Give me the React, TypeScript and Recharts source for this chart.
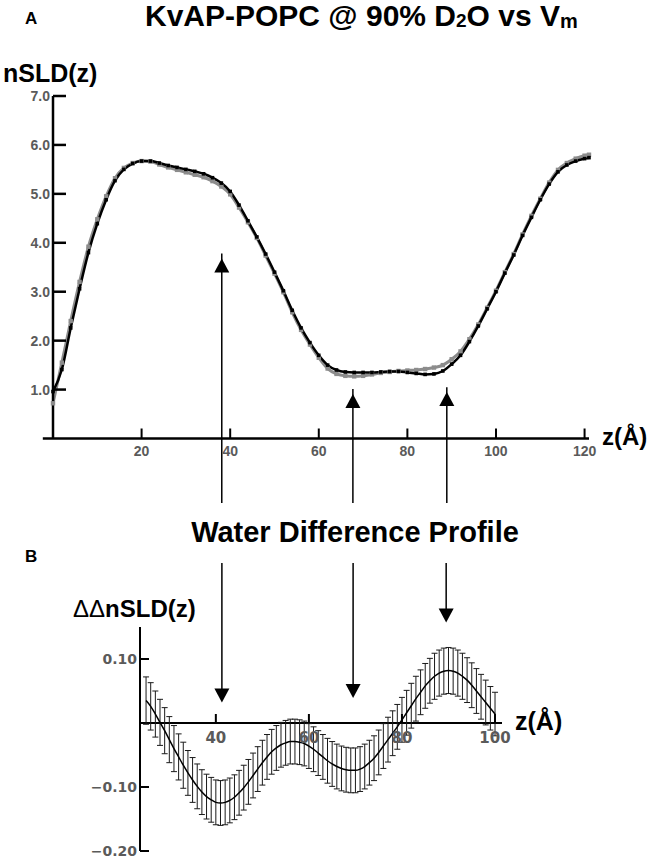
import React from "react";
import { LineChart, Line, XAxis, YAxis, ReferenceLine, ReferenceDot, ErrorBar } from "recharts";

const FONT = '"Liberation Sans", Arial, Helvetica, sans-serif';
const WIDE_FONT = '"DejaVu Sans", Verdana, sans-serif';
const TICK_GREY = "#5a5a5a";

// Panel A: nSLD(z) profiles, grey = reference, black = under V_m
const zA = [
  0, 2, 4, 6, 8, 10, 12, 14, 16, 18, 20, 22, 24, 26, 28, 30, 32, 34, 36, 38, 40, 42, 44, 46, 48, 50, 52, 54, 56, 58, 60,
  62, 64, 66, 68, 70, 72, 74, 76, 78, 80, 82, 84, 86, 88, 90, 92, 94, 96, 98, 100, 102, 104, 106, 108, 110, 112, 114,
  116, 118, 120, 121,
];
const nsldGrey = [
  0.72, 1.55, 2.4, 3.2, 3.92, 4.48, 4.95, 5.32, 5.53, 5.63, 5.67, 5.66, 5.6, 5.54, 5.49, 5.44, 5.39, 5.34, 5.26, 5.15,
  4.99, 4.72, 4.42, 4.1, 3.74, 3.37, 2.99, 2.58, 2.22, 1.92, 1.65, 1.43, 1.32, 1.28, 1.27, 1.28, 1.31, 1.34, 1.36, 1.38,
  1.39, 1.4, 1.42, 1.45, 1.5, 1.62, 1.78, 2.03, 2.33, 2.67, 3.02, 3.4, 3.77, 4.17, 4.55, 4.9, 5.23, 5.49, 5.63, 5.72,
  5.78, 5.8,
];
const nsldBlack = [
  0.96, 1.41, 2.26, 3.06, 3.8, 4.39, 4.88, 5.27, 5.5, 5.62, 5.67, 5.67, 5.63, 5.58, 5.54, 5.5, 5.46, 5.41, 5.33, 5.22,
  5.05, 4.77, 4.45, 4.12, 3.77, 3.4, 3.02, 2.62, 2.26, 1.96, 1.7, 1.5, 1.4, 1.36, 1.35, 1.35, 1.35, 1.36, 1.37, 1.37,
  1.35, 1.33, 1.31, 1.32, 1.38, 1.52, 1.7, 1.98, 2.3, 2.65, 3.0, 3.38, 3.75, 4.15, 4.52, 4.88, 5.2, 5.45, 5.59, 5.67,
  5.72, 5.74,
];
const xTicksA = [20, 40, 60, 80, 100, 120];
const yTicksA = [1, 2, 3, 4, 5, 6, 7];

// Panel B: water difference profile with error bars
const zB = [
  25, 26, 27, 28, 29, 30, 31, 32, 33, 34, 35, 36, 37, 38, 39, 40, 41, 42, 43, 44, 45, 46, 47, 48, 49, 50, 51, 52, 53, 54,
  55, 56, 57, 58, 59, 60, 61, 62, 63, 64, 65, 66, 67, 68, 69, 70, 71, 72, 73, 74, 75, 76, 77, 78, 79, 80, 81, 82, 83,
  84, 85, 86, 87, 88, 89, 90, 91, 92, 93, 94, 95, 96, 97, 98, 99, 100,
];
const ddNsld = [
  0.035, 0.026, 0.014, 0.001, -0.012, -0.026, -0.04, -0.053, -0.066, -0.078, -0.089, -0.099, -0.108, -0.115, -0.12,
  -0.124, -0.125, -0.124, -0.121, -0.116, -0.109, -0.101, -0.092, -0.082, -0.072, -0.062, -0.053, -0.045, -0.039,
  -0.034, -0.031, -0.029, -0.029, -0.03, -0.032, -0.036, -0.041, -0.047, -0.053, -0.059, -0.064, -0.068, -0.071,
  -0.073, -0.074, -0.074, -0.072, -0.068, -0.062, -0.055, -0.046, -0.036, -0.026, -0.016, -0.006, 0.005, 0.016, 0.027,
  0.038, 0.048, 0.058, 0.066, 0.073, 0.078, 0.081, 0.082, 0.081, 0.078, 0.073, 0.067, 0.059, 0.05, 0.041, 0.032, 0.023,
  0.014,
];
const ddErr = [
  0.037, 0.037, 0.036, 0.036, 0.036, 0.036, 0.036, 0.036, 0.036, 0.035, 0.035, 0.035, 0.035, 0.035, 0.035, 0.035,
  0.035, 0.035, 0.035, 0.035, 0.035, 0.035, 0.035, 0.035, 0.035, 0.035, 0.035, 0.035, 0.035, 0.035, 0.035, 0.035,
  0.035, 0.035, 0.035, 0.035, 0.035, 0.035, 0.035, 0.035, 0.035, 0.035, 0.035, 0.035, 0.035, 0.035, 0.035, 0.035,
  0.035, 0.035, 0.035, 0.035, 0.035, 0.035, 0.035, 0.035, 0.035, 0.035, 0.035, 0.035, 0.035, 0.035, 0.036, 0.036,
  0.036, 0.036, 0.036, 0.036, 0.036, 0.035, 0.035, 0.035, 0.035, 0.035, 0.034, 0.034,
];
const xTicksB = [40, 60, 80, 100];
const yTicksB = [0.1, -0.1, -0.2];

// arrows linking the two panels
const arrowZA = [38.1, 67.7, 88.9];
const arrowTipA = [3.68, 0.91, 0.95];
const arrowZB = [41.3, 69.5, 89.5];
const arrowTipB = [0.032, 0.039, 0.157];

const upHead = (p: any) => (
  <path d={`M${p.cx},${p.cy} L${p.cx - 7.5},${p.cy + 14} L${p.cx + 7.5},${p.cy + 14} Z`} fill="#000" />
);
const downHead = (p: any) => (
  <path d={`M${p.cx},${p.cy} L${p.cx - 7.5},${p.cy - 14} L${p.cx + 7.5},${p.cy - 14} Z`} fill="#000" />
);

// own tick text so the size/weight is exactly what we want
const xTickA = (p: any) => (
  <text x={p.x} y={p.y + 11} textAnchor="middle" fill={TICK_GREY} fontSize={14} fontWeight={700} fontFamily={FONT}>
    {p.payload.value}
  </text>
);
const yTickA = (p: any) => (
  <text x={p.x} y={p.y + 5} textAnchor="end" fill={TICK_GREY} fontSize={14} fontWeight={700} fontFamily={FONT}>
    {Number(p.payload.value).toFixed(1)}
  </text>
);
const yTickB = (p: any) => {
  const v = Number(p.payload.value);
  const s = v < 0 ? "\u2212" + Math.abs(v).toFixed(2) : v.toFixed(2);
  return (
    <text x={p.x} y={p.y + 5} textAnchor="end" fill={TICK_GREY} fontSize={14} fontWeight={700} fontFamily={WIDE_FONT}>
      {s}
    </text>
  );
};

function ProfileChart() {
  const rows = zA.map((z, i) => ({ z, grey: nsldGrey[i], black: nsldBlack[i] }));
  return (
    <LineChart width={654} height={512} data={rows} margin={{ top: 96, right: 65, bottom: 43.5, left: 8 }}>
      <XAxis
        dataKey="z"
        type="number"
        domain={[0, 121]}
        ticks={xTicksA}
        interval={0}
        height={30}
        tickSize={-10}
        tickMargin={16}
        axisLine={{ stroke: "#000", strokeWidth: 2.5 }}
        tickLine={{ stroke: "#000", strokeWidth: 2 }}
        tick={xTickA}
      />
      <YAxis
        type="number"
        domain={[0, 7]}
        ticks={yTicksA}
        interval={0}
        width={45}
        tickSize={-13}
        tickMargin={16}
        axisLine={{ stroke: "#000", strokeWidth: 2.5 }}
        tickLine={{ stroke: "#000", strokeWidth: 2.5 }}
        tick={yTickA}
      />
      <ReferenceLine
        segment={[{ x: -2.3, y: 0 }, { x: 0, y: 0 }]}
        ifOverflow="visible"
        stroke="#000"
        strokeWidth={2.5}
      />
      {arrowZA.map((z, i) => (
        <ReferenceLine
          key={`sa${i}`}
          segment={[{ x: z, y: arrowTipA[i] + 0.1 }, { x: z, y: -1.32 }]}
          ifOverflow="visible"
          stroke="#000"
          strokeWidth={1.5}
        />
      ))}
      {arrowZA.map((z, i) => (
        <ReferenceDot key={`ha${i}`} x={z} y={arrowTipA[i]} ifOverflow="visible" shape={upHead} />
      ))}
      <Line
        dataKey="grey"
        type="monotone"
        stroke="#8c8c8c"
        strokeWidth={3}
        isAnimationActive={false}
        dot={(p: any) => (
          <rect key={`g${p.index}`} x={p.cx - 2.2} y={p.cy - 2.2} width={4.4} height={4.4} fill="#8c8c8c" />
        )}
      />
      <Line
        dataKey="black"
        type="monotone"
        stroke="#000"
        strokeWidth={2.5}
        isAnimationActive={false}
        dot={(p: any) => (
          <rect key={`b${p.index}`} x={p.cx - 1.8} y={p.cy - 1.8} width={3.6} height={3.6} fill="#000" />
        )}
      />
    </LineChart>
  );
}

function DifferenceChart() {
  const rows = zB.map((z, i) => ({ z, dd: ddNsld[i], err: ddErr[i] }));
  return (
    <LineChart width={654} height={305} data={rows} margin={{ top: 72, right: 152, bottom: 9, left: 40 }}>
      <XAxis dataKey="z" type="number" domain={[23.7, 101.5]} hide />
      <YAxis
        type="number"
        domain={[-0.2, 0.15]}
        ticks={yTicksB}
        interval={0}
        width={100}
        tickSize={-9}
        tickMargin={12}
        axisLine={{ stroke: "#000", strokeWidth: 2 }}
        tickLine={{ stroke: "#000", strokeWidth: 2 }}
        tick={yTickB}
      />
      <ReferenceLine y={0} stroke="#000" strokeWidth={2} />
      {xTicksB.map((t) => (
        <ReferenceDot
          key={`t${t}`}
          x={t}
          y={0}
          shape={(p: any) => (
            <g>
              <line x1={p.cx} y1={p.cy} x2={p.cx} y2={p.cy - 9} stroke="#000" strokeWidth={2} />
              <text
                x={p.cx}
                y={p.cy + 19.5}
                textAnchor="middle"
                fill={TICK_GREY}
                fontSize={15}
                fontWeight={700}
                fontFamily={WIDE_FONT}
              >
                {t}
              </text>
            </g>
          )}
        />
      ))}
      {arrowZB.map((z, i) => (
        <ReferenceLine
          key={`sb${i}`}
          segment={[{ x: z, y: 0.25 }, { x: z, y: arrowTipB[i] + 0.008 }]}
          ifOverflow="visible"
          stroke="#000"
          strokeWidth={1.5}
        />
      ))}
      {arrowZB.map((z, i) => (
        <ReferenceDot key={`hb${i}`} x={z} y={arrowTipB[i]} ifOverflow="visible" shape={downHead} />
      ))}
      <Line dataKey="dd" type="monotone" stroke="#000" strokeWidth={1.5} dot={false} isAnimationActive={false}>
        <ErrorBar dataKey="err" direction="y" width={3} stroke="#1a1a1a" strokeWidth={1} />
      </Line>
    </LineChart>
  );
}

export default function App() {
  const bold = { fontFamily: FONT, fontWeight: 700, fill: "#000" } as const;
  return (
    <div style={{ position: "absolute", left: 0, top: 0, width: 654, height: 860, background: "#fff" }}>
      <div style={{ position: "absolute", left: 0, top: 0 }}>
        <ProfileChart />
      </div>
      <div style={{ position: "absolute", left: 0, top: 555 }}>
        <DifferenceChart />
      </div>
      <svg
        width={654}
        height={860}
        style={{ position: "absolute", left: 0, top: 0, pointerEvents: "none" }}
      >
        <text x={25} y={24} fontSize={17} {...bold}>
          A
        </text>
        <text x={145} y={26} fontSize={30} {...bold}>
          KvAP-POPC @ 90% D<tspan fontSize={19} dy={1}>2</tspan>
          <tspan dy={-1}>O vs V</tspan>
          <tspan fontSize={20} dy={2}>m</tspan>
        </text>
        <text x={3} y={82} fontSize={25} {...bold}>
          nSLD(z)
        </text>
        <text x={602} y={445} fontSize={24} {...bold}>
          z(Å)
        </text>
        <text x={355} y={542} fontSize={29} textAnchor="middle" {...bold}>
          Water Difference Profile
        </text>
        <text x={25} y={562} fontSize={17} {...bold}>
          B
        </text>
        <text x={73} y={617} fontSize={24} {...bold}>
          <tspan fontWeight={400}>ΔΔ</tspan>nSLD(z)
        </text>
        <text x={515} y={730} fontSize={25} {...bold}>
          z(Å)
        </text>
      </svg>
    </div>
  );
}
